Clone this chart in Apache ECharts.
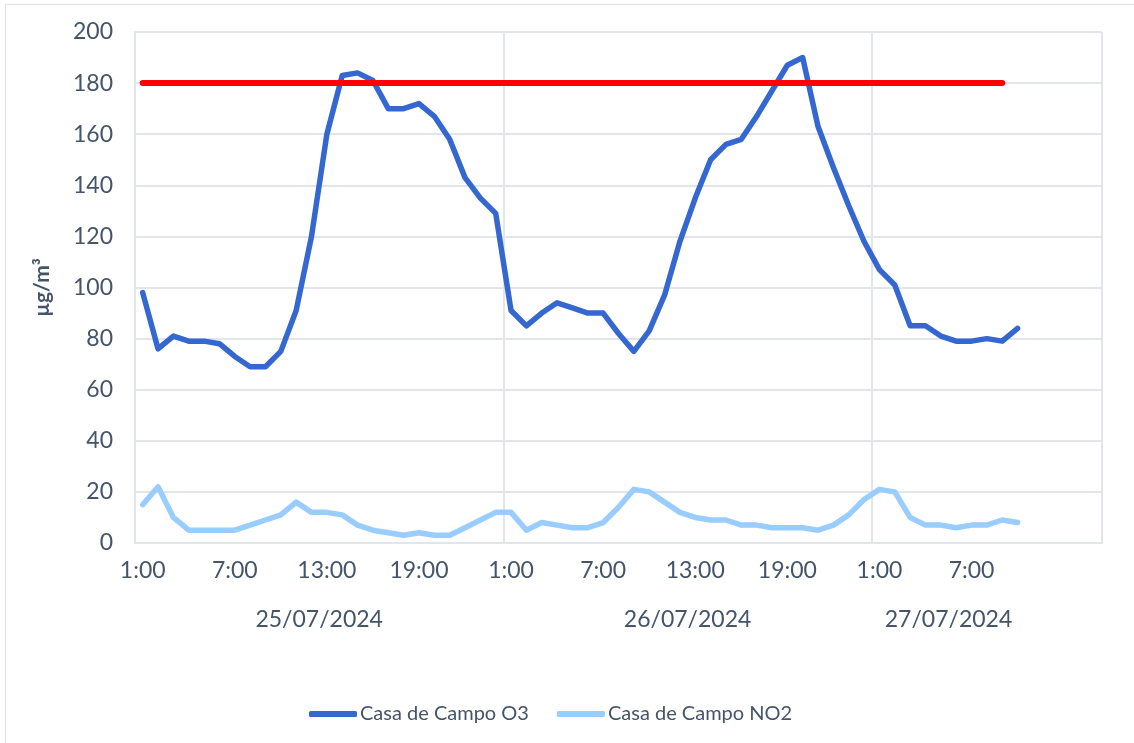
<!DOCTYPE html>
<html>
<head>
<meta charset="utf-8">
<script src="https://cdn.jsdelivr.net/npm/echarts@6/dist/echarts.min.js"></script>
<style>
  html, body { margin: 0; padding: 0; background: #fff; overflow: hidden; }
  #frame { position: absolute; left: 5px; top: 4px; width: 1200px; height: 800px; border: 1px solid #dfe2e6; }
  #myChart { position: absolute; left: 0; top: 0; width: 1134px; height: 743px; }
</style>
</head>
<body>
<div id="frame"></div>
<div id="myChart"></div>
<script>
// dias y horas del eje
const dayLabels = ['25/07/2024', '26/07/2024', '27/07/2024']
const dayHours = [24, 24, 10]
const blankSlots = 5
const hourLabelStep = 6

// valores horarios (µg/m³)
const o3 = [
  98, 76, 81, 79, 79, 78, 73, 69, 69, 75, 91, 120, 160, 183, 184, 181, 170, 170, 172, 167, 158, 143, 135, 129,
  91, 85, 90, 94, 92, 90, 90, 82, 75, 83, 97, 118, 135, 150, 156, 158, 167, 177, 187, 190, 163, 147, 132, 118,
  107, 101, 85, 85, 81, 79, 79, 80, 79, 84
]
const no2 = [
  15, 22, 10, 5, 5, 5, 5, 7, 9, 11, 16, 12, 12, 11, 7, 5, 4, 3, 4, 3, 3, 6, 9, 12,
  12, 5, 8, 7, 6, 6, 8, 14, 21, 20, 16, 12, 10, 9, 9, 7, 7, 6, 6, 6, 5, 7, 11, 17,
  21, 20, 10, 7, 7, 6, 7, 7, 9, 8
]
const limitValue = 180
const limitHours = 57

const hours = []
dayHours.forEach(n => { for (let h = 1; h <= n; h++) hours.push(h + ':00') })
for (let k = 0; k < blankSlots; k++) hours.push('')
const limit = new Array(limitHours).fill(limitValue)

// centro de cada grupo de dias en el eje
const dayCenters = {}
let acc = 0
dayHours.forEach((n, d) => { dayCenters[acc + n / 2] = dayLabels[d]; acc += n })
const dayBreaks = [dayHours[0], dayHours[0] + dayHours[1]]

const txt = '#44546a'
const gridColor = '#e2e5ea'
const font = 'Lato'

const option = {
  animation: false,
  textStyle: { fontFamily: font },
  grid: { left: 135, right: 32, top: 32, bottom: 200 },
  legend: {
    data: ['Casa de Campo O3', 'Casa de Campo NO2'],
    icon: 'roundRect',
    left: 304, top: 699,
    itemWidth: 48, itemHeight: 6, itemGap: 28,
    textStyle: { fontSize: 20, color: txt, fontFamily: font, padding: [0, 0, 0, -2] }
  },
  xAxis: [
    {
      type: 'category',
      data: hours,
      boundaryGap: true,
      axisLine: { show: true, lineStyle: { color: gridColor, width: 2 } },
      axisTick: { show: false },
      axisLabel: {
        interval: (i, v) => i % hourLabelStep === 0 && v !== '',
        margin: 16, fontSize: 23, color: txt, fontFamily: font
      },
      splitLine: {
        show: true,
        interval: (i) => dayBreaks.indexOf(i) >= 0,
        lineStyle: { color: gridColor, width: 2 }
      }
    },
    {
      type: 'value',
      position: 'bottom',
      min: 0, max: hours.length, interval: 1,
      axisLine: { show: false },
      axisTick: { show: false },
      splitLine: { show: false },
      axisLabel: {
        margin: 65, fontSize: 23, color: txt, fontFamily: font,
        showMinLabel: true, showMaxLabel: true,
        formatter: v => dayCenters[v] || ''
      }
    }
  ],
  yAxis: {
    type: 'value',
    min: 0, max: 200, interval: 20,
    name: 'µg/m³',
    nameLocation: 'middle',
    nameGap: 82,
    nameTextStyle: { fontSize: 21, fontWeight: 'bold', color: txt, fontFamily: font },
    axisLine: { show: true, lineStyle: { color: gridColor, width: 2 } },
    axisTick: { show: false },
    axisLabel: { margin: 22, fontSize: 23, color: txt, fontFamily: font },
    splitLine: { lineStyle: { color: gridColor, width: 2 } }
  },
  series: [
    {
      name: 'Casa de Campo O3',
      type: 'line',
      data: o3,
      symbol: 'none',
      z: 3,
      itemStyle: { color: '#3467cf' },
      lineStyle: { color: '#3467cf', width: 5.5, cap: 'round', join: 'round' }
    },
    {
      name: 'Casa de Campo NO2',
      type: 'line',
      data: no2,
      symbol: 'none',
      z: 2,
      itemStyle: { color: '#99ccff' },
      lineStyle: { color: '#99ccff', width: 5.5, cap: 'round', join: 'round' }
    },
    {
      name: 'Valor límite',
      type: 'line',
      data: limit,
      symbol: 'none',
      z: 4,
      itemStyle: { color: '#ff0000' },
      lineStyle: { color: '#ff0000', width: 6, cap: 'round' }
    }
  ]
}

const myChart = echarts.init(document.getElementById('myChart'))
myChart.setOption(option)
</script>
</body>
</html>
